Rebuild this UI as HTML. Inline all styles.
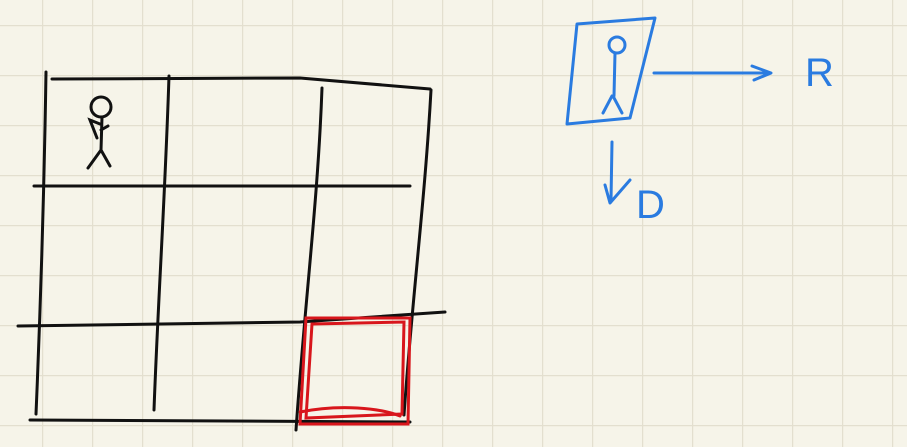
<!DOCTYPE html>
<html><head><meta charset="utf-8"><style>
html,body{margin:0;padding:0;background:#f6f4e9;}
svg{display:block;}
</style></head><body>
<svg width="907" height="447" viewBox="0 0 907 447" xmlns="http://www.w3.org/2000/svg">
<defs>
<pattern id="grid" x="42" y="25" width="50" height="50" patternUnits="userSpaceOnUse">
<path d="M0 0 H50 M0 0 V50" stroke="#e3dfcf" stroke-width="2.5" fill="none"/>
</pattern>
</defs>
<rect width="907" height="447" fill="#f6f4e9"/>
<rect width="907" height="447" fill="url(#grid)"/>
<g stroke="#111" stroke-width="3" fill="none" stroke-linecap="round">
<path d="M46 72 C44 200 40 320 36 414"/>
<path d="M52 79 L300 78 L430 89"/>
<path d="M169 76 C165 200 158 300 154 410"/>
<path d="M322 88 C318 200 305 300 296 430"/>
<path d="M431 90 C425 200 412 300 404 415"/>
<path d="M34 186 L410 186"/>
<path d="M18 326 L300 322 L445 312"/>
<path d="M30 420 L410 422"/>
</g>
<g stroke="#111" stroke-width="3" fill="none" stroke-linecap="round">
<circle cx="101" cy="107" r="10"/>
<path d="M102 117 L101 150 M101 150 L88 168 M101 150 L110 166 M101 130 L108 126 M100 124 L90 120 L97 138"/>
</g>
<g stroke="#d8161c" stroke-width="3" fill="none" stroke-linecap="round">
<path d="M306 318 L410 318 L408 424 L300 424 Z"/>
<path d="M312 324 L404 322 L402 414 L306 418 Z"/>
<path d="M300 412 C340 404 380 408 400 416"/>
</g>
<g stroke="#2a7be0" stroke-width="3" fill="none" stroke-linecap="round" stroke-linejoin="round">
<path d="M577 24 L655 18 L630 118 L567 124 Z"/>
<circle cx="617" cy="45" r="8"/>
<path d="M615 53 L614 96 M612 96 L603 113 M613 96 L622 113"/>
<path d="M654 73 L770 73 M752 66 L771 73 L754 80"/>
<path d="M612 142 L611 200 M605 185 L610 203 L630 180"/>
</g>
<text x="805" y="86" font-family="Liberation Sans, sans-serif" font-size="40" fill="#2a7be0">R</text>
<text x="636" y="218" font-family="Liberation Sans, sans-serif" font-size="40" fill="#2a7be0">D</text>
</svg>
</body></html>
